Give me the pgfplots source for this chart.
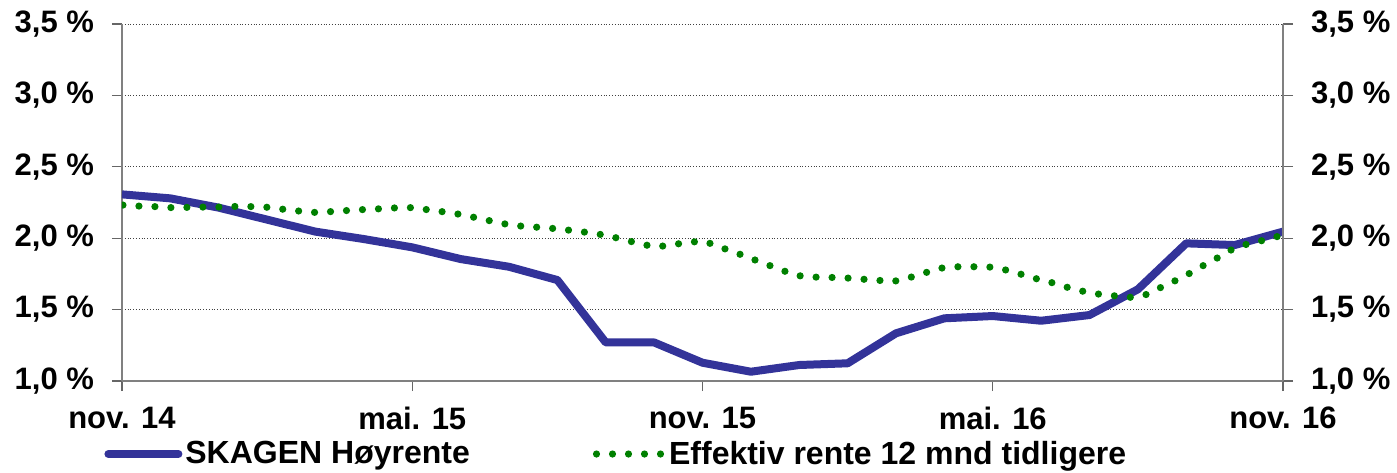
\documentclass[border=0pt]{standalone}
\usepackage{fontspec}
\setmainfont{Liberation Sans}
\usepackage{pgfplots}
\pgfplotsset{compat=1.18}
\definecolor{bl}{RGB}{51,51,153}
\definecolor{gr}{RGB}{0,128,0}
\begin{document}
\begin{tikzpicture}
\pgfplotsset{
 common/.style={scale only axis, width=580.5pt, height=178.5pt,
  xmin=0, xmax=24, ymin=1, ymax=3.5, ytick={1,1.5,2,2.5,3,3.5},
  tick align=outside, major tick length=5pt,
  axis line style={draw=black!50, line width=0.6pt},
  tick style={black!60, line width=0.6pt},
  /pgf/number format/assume math mode=true,
  yticklabel={\pgfmathprintnumber[fixed,fixed zerofill,precision=1,use comma]{\tick}~\%},
  y tick label style={font=\fontsize{15.5}{18}\selectfont\bfseries},
 }
}
\begin{axis}[common, axis x line*=bottom, axis y line*=left,
  xtick={0,6,12,18,24}, xticklabels={nov. 14, mai. 15, nov. 15, mai. 16, nov. 16},
  x tick label style={font=\fontsize{15.5}{18}\selectfont\bfseries, yshift=-4.5pt},
  y tick label style={xshift=-5.5pt},
  ymajorgrids, major grid style={densely dotted, black!75, line width=0.5pt},
  legend columns=2,
  legend style={draw=none, fill=none, at={(0,0)}, anchor=west, xshift=-9pt, yshift=-36.5pt,
    font=\fontsize{16}{18}\selectfont\bfseries, inner sep=0pt,
    nodes={inner sep=1.5pt},
    /tikz/every even column/.append style={column sep=60pt}},
  legend cell align=left,
 ]
\coordinate (bl) at (rel axis cs:0,0);
\coordinate (tr) at (rel axis cs:1,1);
\addplot[bl, line width=4pt, line join=round,
  legend image code/.code={\draw[bl, line width=4pt, line cap=round] (0pt,0pt) -- (35pt,0pt);}]
 coordinates {
(0,2.307) (1,2.279) (2,2.214) (3,2.130) (4,2.046) (5,1.994) (6,1.936) (7,1.854) (8,1.800)
(9,1.707) (10,1.270) (11,1.270) (12,1.128) (13,1.065) (14,1.112) (15,1.124) (16,1.334)
(17,1.439) (18,1.455) (19,1.422) (20,1.462) (21,1.642) (22,1.964) (23,1.952) (24,2.046)
};
\addlegendentry{SKAGEN Høyrente}
\addplot[gr, line width=3.6pt, line cap=round, dash pattern=on 0pt off 8pt,
  legend image code/.code={\draw[gr, line width=3.6pt, line cap=round, dash pattern=on 0pt off 8pt] (0pt,0pt) -- (33pt,0pt);}]
 coordinates {
(0.02,2.232) (0.35,2.225) (0.70,2.221) (1.03,2.214) (1.36,2.216) (1.70,2.218) (2.05,2.218)
(2.38,2.223) (2.71,2.221) (3.04,2.216) (3.39,2.200) (3.72,2.188) (4.05,2.179) (4.38,2.188)
(4.71,2.195) (5.06,2.202) (5.40,2.207) (5.73,2.214) (6.06,2.214) (6.39,2.195) (6.74,2.181)
(7.07,2.162) (7.40,2.137) (7.73,2.113) (8.06,2.090) (8.39,2.081) (8.72,2.074) (9.05,2.064)
(9.39,2.050) (9.72,2.036) (10.05,2.017) (10.38,1.989) (10.71,1.961) (11.03,1.938) (11.37,1.954)
(11.70,1.971) (12.03,1.980) (12.34,1.940) (12.67,1.901) (12.98,1.861) (13.29,1.821) (13.60,1.782)
(13.92,1.740) (14.25,1.728) (14.58,1.726) (14.92,1.723) (15.26,1.714) (15.59,1.707) (15.92,1.695)
(16.25,1.721) (16.57,1.754) (16.89,1.789) (17.22,1.800) (17.56,1.800) (17.90,1.800) (18.22,1.782)
(18.55,1.751) (18.87,1.719) (19.20,1.691) (19.52,1.658) (19.84,1.630) (20.18,1.609) (20.50,1.597)
(20.84,1.586) (21.16,1.604) (21.46,1.653) (21.77,1.702) (22.07,1.754) (22.36,1.810) (22.65,1.863)
(22.95,1.922) (23.26,1.959) (23.59,1.985) (23.92,2.015) (24.00,2.022)
};
\addlegendentry{Effektiv rente 12 mnd tidligere}
\end{axis}
\begin{axis}[common, axis y line*=right, axis x line=none,
  y tick label style={xshift=5.5pt}]
\end{axis}
\pgfresetboundingbox
\path[use as bounding box] ([xshift=-61pt,yshift=-45.5pt]bl) rectangle ([xshift=57pt,yshift=12pt]tr);
\end{tikzpicture}
\end{document}
